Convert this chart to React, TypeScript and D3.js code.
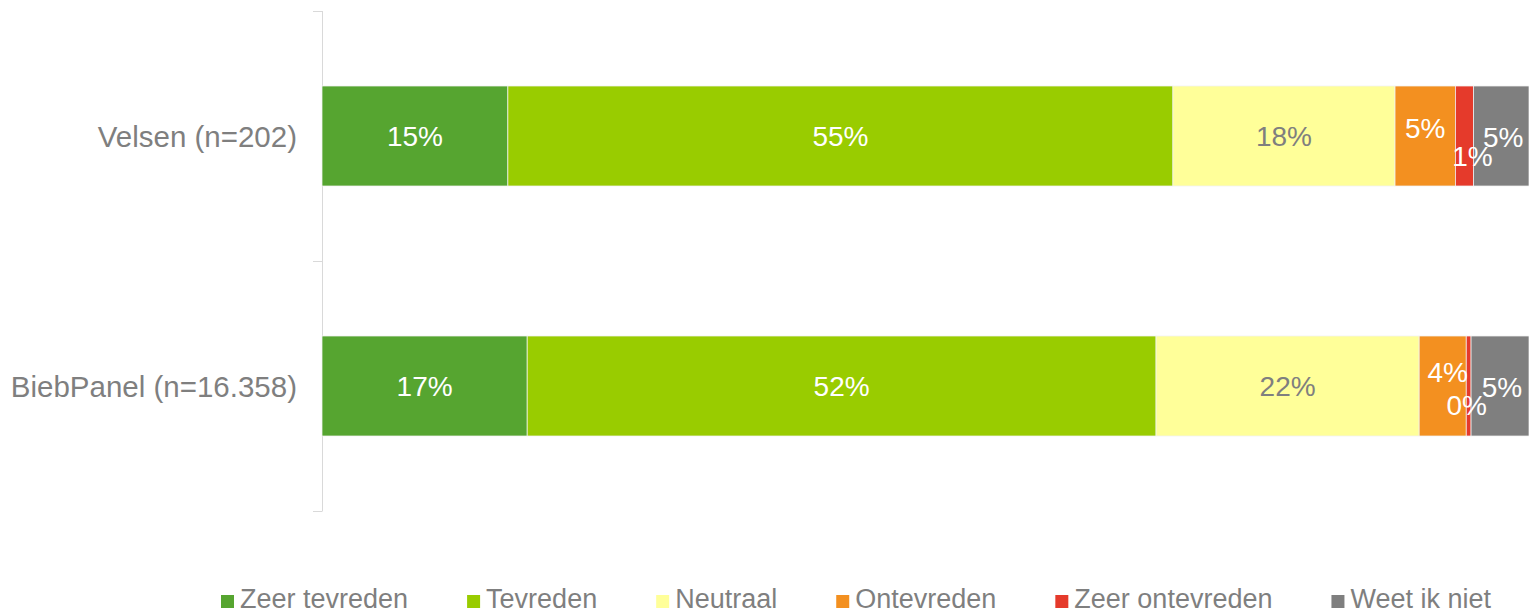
import React, { useEffect, useRef } from "react";
import * as d3 from "d3";

const categories = ["Velsen (n=202)", "BiebPanel (n=16.358)"];
const seriesNames = ["Zeer tevreden", "Tevreden", "Neutraal", "Ontevreden", "Zeer ontevreden", "Weet ik niet"];
const seriesColors = ["#56a530", "#99cc00", "#ffff99", "#f39020", "#e53a2b", "#7f7f7f"];
const labelColors = ["#ffffff", "#ffffff", "#7f7f7f", "#ffffff", "#ffffff", "#ffffff"];
const velsenValues = [15.4, 55.1, 18.4, 5.0, 1.5, 4.6];
const biebPanelValues = [17.0, 52.1, 21.8, 3.9, 0.4, 4.8];
const velsenLabels = ["15%", "55%", "18%", "5%", "1%", "5%"];
const biebPanelLabels = ["17%", "52%", "22%", "4%", "0%", "5%"];
// manual label nudges (dx, dy) as in the original
const velsenNudges = [[0, 0], [0, 0], [0, 0], [0, -8], [8, 20], [2, 1]];
const biebPanelNudges = [[0, 0], [0, 0], [0, 0], [5, -14], [-2, 19], [2, 1]];

const W = 1529;
const H = 613;

export default function App() {
  const ref = useRef(null);

  useEffect(() => {
    const svg = d3.select(ref.current);
    svg.selectAll("*").remove();
    const font = "'Liberation Sans', Arial, sans-serif";

    const x = d3.scaleLinear().domain([0, 100]).range([322, 1529]);
    const y = d3.scaleBand().domain(categories).range([11, 511]).paddingInner(0.6).paddingOuter(0.3);

    const rows = [
      { cat: categories[0], values: velsenValues, labels: velsenLabels, nudges: velsenNudges },
      { cat: categories[1], values: biebPanelValues, labels: biebPanelLabels, nudges: biebPanelNudges },
    ];

    const axisColor = "#d9d9d9";
    svg.append("line").attr("x1", 322.5).attr("x2", 322.5).attr("y1", 11).attr("y2", 511)
      .attr("stroke", axisColor).attr("stroke-width", 1);
    const tickYs = [11, 261, 511];
    tickYs.forEach(function (ty) {
      svg.append("line")
        .attr("x1", 313).attr("x2", 322.5).attr("y1", ty + 0.5).attr("y2", ty + 0.5)
        .attr("stroke", axisColor).attr("stroke-width", 1);
    });

    rows.forEach(function (row) {
      const y0 = y(row.cat);
      const bw = y.bandwidth();
      let cum = 0;
      const segs = row.values.map(function (v, i) {
        const s = { start: cum, end: cum + v, i: i };
        cum += v;
        return s;
      });
      const g = svg.append("g");
      segs.forEach(function (s) {
        g.append("rect")
          .attr("x", x(s.start))
          .attr("y", y0)
          .attr("width", x(s.end) - x(s.start))
          .attr("height", bw)
          .attr("fill", seriesColors[s.i])
          .attr("stroke", "#f2f2f2")
          .attr("stroke-width", 0.75);
      });
      segs.forEach(function (s) {
        g.append("text")
          .attr("x", (x(s.start) + x(s.end)) / 2 + row.nudges[s.i][0])
          .attr("y", y0 + bw / 2 + row.nudges[s.i][1])
          .attr("text-anchor", "middle")
          .attr("dominant-baseline", "central")
          .attr("font-family", font)
          .attr("font-size", 28)
          .attr("fill", labelColors[s.i])
          .text(row.labels[s.i]);
      });

      svg.append("text")
        .attr("x", 297)
        .attr("y", y0 + bw / 2)
        .attr("text-anchor", "end")
        .attr("dominant-baseline", "central")
        .attr("font-family", font)
        .attr("font-size", 29.5)
        .attr("fill", "#7f7f7f")
        .text(row.cat);
    });

    const lg = svg.append("g");
    let lx = 221;
    seriesNames.forEach(function (name, i) {
      lg.append("rect").attr("x", lx).attr("y", 595).attr("width", 13).attr("height", 13)
        .attr("fill", seriesColors[i]);
      const t = lg.append("text").attr("x", lx + 19).attr("y", 608)
        .attr("font-family", font).attr("font-size", 27).attr("fill", "#7f7f7f").text(name);
      const node = t.node();
      const w = node ? node.getComputedTextLength() : 0;
      lx = lx + 19 + w + 59;
    });
  }, []);

  return (
    <svg ref={ref} width={W} height={H}
      style={{ position: "absolute", left: 0, top: 0, background: "#ffffff" }} />
  );
}
